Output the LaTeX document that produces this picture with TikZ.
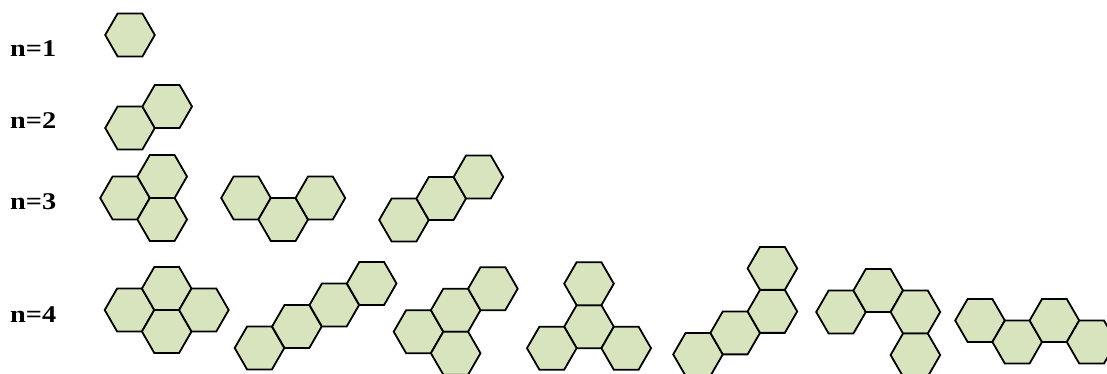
\documentclass[tikz,border=0pt]{standalone}
\usepackage{fontspec}
\setmainfont{Liberation Serif}
\definecolor{hexfill}{HTML}{D7E4BD}
\newcommand{\hexR}{24.8}
\newcommand{\hexat}[2]{\draw[hexcell] (#1,#2) +(0:\hexR) -- +(60:\hexR) -- +(120:\hexR) -- +(180:\hexR) -- +(240:\hexR) -- +(300:\hexR) -- cycle;}
\tikzset{
  hexcell/.style={fill=hexfill, draw=black, line width=1.8pt, line join=miter},
  lbl/.style={anchor=base west, inner sep=0pt, font=\fontsize{24}{28}\selectfont\bfseries}
}
\begin{document}
\begin{tikzpicture}[x=1pt,y=-1pt]
\useasboundingbox (0,0) rectangle (1107,374);
\clip (0,0) rectangle (1107,374);
% labels
\node[lbl] (l1) at (10,57) {\scalebox{1.18}[1]{n=1}};
\node[lbl] (l2) at (10,128.3) {\scalebox{1.18}[1]{n=2}};
\node[lbl] (l3) at (10,209.3) {\scalebox{1.18}[1]{n=3}};
\node[lbl] (l4) at (10,322.7) {\scalebox{1.18}[1]{n=4}};
% n=1
\hexat{130}{35}
% n=2
\hexat{130}{128}
\hexat{167.2}{106.5}
% n=3
\hexat{125}{198}
\hexat{162.2}{176.5}
\hexat{162.2}{219.5}
\hexat{246}{198}
\hexat{283.2}{219.5}
\hexat{320.4}{198}
\hexat{404}{220}
\hexat{441.2}{198.5}
\hexat{478.4}{177}
% n=4
\hexat{129.5}{310}
\hexat{166.7}{288.5}
\hexat{166.7}{331.5}
\hexat{203.9}{310}
\hexat{259.5}{348}
\hexat{296.9}{326.5}
\hexat{334.3}{305}
\hexat{371.7}{283.5}
\hexat{418.5}{331.7}
\hexat{455.7}{310.2}
\hexat{492.9}{288.7}
\hexat{455.7}{353.2}
\hexat{589}{326.7}
\hexat{589}{283.7}
\hexat{551.8}{348.2}
\hexat{626.2}{348.2}
\hexat{698}{354.4}
\hexat{735.2}{332.9}
\hexat{772.4}{311.4}
\hexat{772.4}{268.4}
\hexat{841}{312}
\hexat{878.2}{290.5}
\hexat{915.4}{312}
\hexat{915.4}{355}
\hexat{980}{320.5}
\hexat{1017.2}{342}
\hexat{1054.4}{320.5}
\hexat{1091.6}{342}
\end{tikzpicture}
\end{document}
